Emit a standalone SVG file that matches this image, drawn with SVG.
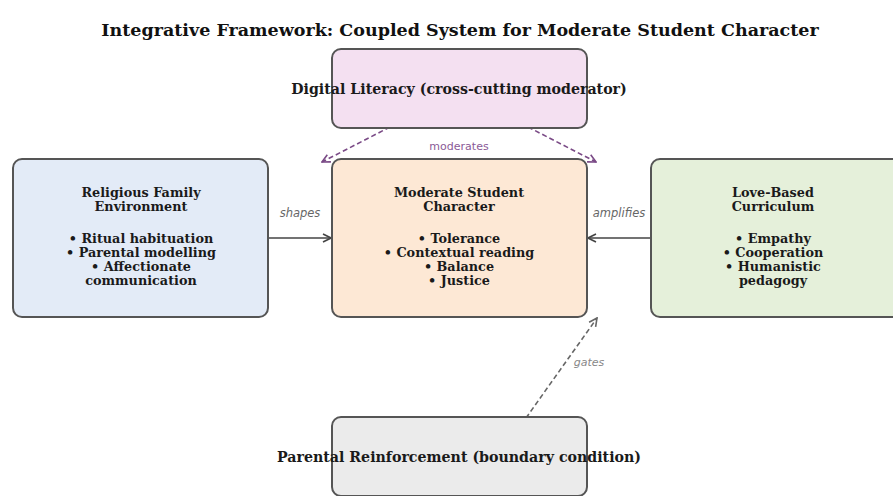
<svg xmlns="http://www.w3.org/2000/svg" width="893" height="496" viewBox="0 0 893 496">
<style>
.title{font-family:"DejaVu Serif",serif;font-weight:bold;font-size:17.5px;fill:#111;text-anchor:middle}
.node{stroke:#555;stroke-width:2}
.lbl{font-family:"DejaVu Serif",serif;font-weight:bold;font-size:12.8px;fill:#1a1a1a;text-anchor:middle}
.big{font-size:14.2px}
.elbl{font-family:"DejaVu Sans",sans-serif;font-style:italic;font-size:11.5px;fill:#666;text-anchor:middle}
.solid{stroke:#444;stroke-width:1.6;fill:none}
.dash{stroke-width:1.6;fill:none;stroke-dasharray:5,3}
</style>
<defs>
<marker id="ah" viewBox="0 0 10 10" refX="9" refY="5" markerWidth="10" markerHeight="10" markerUnits="userSpaceOnUse" orient="auto">
<polyline points="1,1 9,5 1,9" fill="none" stroke="#444" stroke-width="1.6"/>
</marker>
<marker id="ahp" viewBox="0 0 10 10" refX="9" refY="5" markerWidth="10" markerHeight="10" markerUnits="userSpaceOnUse" orient="auto">
<polyline points="1,1 9,5 1,9" fill="none" stroke="#7a4a86" stroke-width="1.6"/>
</marker>
<marker id="ahg" viewBox="0 0 10 10" refX="9" refY="5" markerWidth="10" markerHeight="10" markerUnits="userSpaceOnUse" orient="auto">
<polyline points="1,1 9,5 1,9" fill="none" stroke="#666" stroke-width="1.6"/>
</marker>
</defs>
<rect width="893" height="496" fill="#fff"/>
<text class="title" x="460" y="36">Integrative Framework: Coupled System for Moderate Student Character</text>

<g id="connectors">
<line class="solid" x1="268" y1="238" x2="331" y2="238" marker-end="url(#ah)"/>
<line class="solid" x1="651" y1="238" x2="588" y2="238" marker-end="url(#ah)"/>
<line class="dash" stroke="#7a4a86" x1="390" y1="127" x2="322" y2="162" marker-end="url(#ahp)"/>
<line class="dash" stroke="#7a4a86" x1="528" y1="127" x2="596" y2="162" marker-end="url(#ahp)"/>
<line class="dash" stroke="#666" x1="526" y1="418" x2="597" y2="318" marker-end="url(#ahg)"/>
<text class="elbl" x="300" y="217">shapes</text>
<text class="elbl" x="619" y="217">amplifies</text>
<text class="elbl" x="459" y="150" style="fill:#8a5a96;font-style:normal;font-size:11px">moderates</text>
<text class="elbl" x="589" y="366" style="fill:#888;font-size:11px">gates</text>
</g>

<g id="digital">
<rect class="node" x="332" y="49" width="255" height="79" rx="9" fill="#f4e0f1"/>
<text class="lbl big" x="459" y="94">Digital Literacy (cross-cutting moderator)</text>
</g>

<g id="family">
<rect class="node" x="13" y="159" width="255" height="158" rx="9" fill="#e3ebf7"/>
<text class="lbl" x="141" y="197">Religious Family</text>
<text class="lbl" x="141" y="211">Environment</text>
<text class="lbl" x="141" y="243">• Ritual habituation</text>
<text class="lbl" x="141" y="257">• Parental modelling</text>
<text class="lbl" x="141" y="271">• Affectionate</text>
<text class="lbl" x="141" y="285">communication</text>
</g>

<g id="character">
<rect class="node" x="332" y="159" width="255" height="158" rx="9" fill="#fde8d5"/>
<text class="lbl" x="459" y="197">Moderate Student</text>
<text class="lbl" x="459" y="211">Character</text>
<text class="lbl" x="459" y="243">• Tolerance</text>
<text class="lbl" x="459" y="257">• Contextual reading</text>
<text class="lbl" x="459" y="271">• Balance</text>
<text class="lbl" x="459" y="285">• Justice</text>
</g>

<g id="curriculum">
<rect class="node" x="651" y="159" width="255" height="158" rx="9" fill="#e5f0da"/>
<text class="lbl" x="773" y="197">Love-Based</text>
<text class="lbl" x="773" y="211">Curriculum</text>
<text class="lbl" x="773" y="243">• Empathy</text>
<text class="lbl" x="773" y="257">• Cooperation</text>
<text class="lbl" x="773" y="271">• Humanistic</text>
<text class="lbl" x="773" y="285">pedagogy</text>
</g>

<g id="parental">
<rect class="node" x="332" y="417" width="255" height="79" rx="9" fill="#ebebeb"/>
<text class="lbl big" x="459" y="462">Parental Reinforcement (boundary condition)</text>
</g>
</svg>
